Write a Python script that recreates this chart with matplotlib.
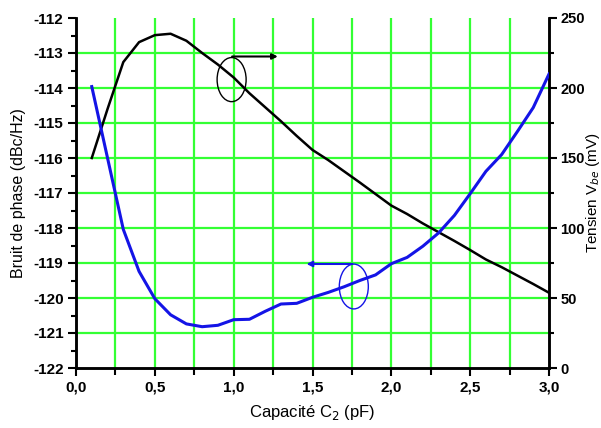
import matplotlib
matplotlib.use("Agg")
import matplotlib.pyplot as plt
from matplotlib.patches import Ellipse
from matplotlib.ticker import MultipleLocator

# ---- data ----
capacite = [0.1, 0.2, 0.3, 0.4, 0.5, 0.6, 0.7, 0.8, 0.9, 1.0,
            1.1, 1.2, 1.3, 1.4, 1.5, 1.6, 1.7, 1.8, 1.9, 2.0,
            2.1, 2.2, 2.3, 2.4, 2.5, 2.6, 2.7, 2.8, 2.9, 3.0]
bruit_phase = [-116.0, -114.6, -113.26, -112.69, -112.49, -112.45, -112.65, -113.0, -113.33, -113.7,
               -114.15, -114.55, -114.95, -115.37, -115.77, -116.06, -116.38, -116.7, -117.03, -117.36,
               -117.6, -117.87, -118.12, -118.37, -118.63, -118.9, -119.12, -119.36, -119.6, -119.85]
tension = [201, 150, 99, 69, 49.5, 38, 31.5, 29.5, 30.5, 34.5,
           34.8, 40.5, 45.7, 46.2, 50.5, 54, 58, 62.5, 66.5, 74.5,
           79, 87, 96.5, 109, 124.5, 140.5, 152.5, 169, 186, 210]

xticks = [0.0, 0.5, 1.0, 1.5, 2.0, 2.5, 3.0]
xtick_labels = ["0,0", "0,5", "1,0", "1,5", "2,0", "2,5", "3,0"]
yticks_left = [-122, -121, -120, -119, -118, -117, -116, -115, -114, -113, -112]
yticks_right = [0, 50, 100, 150, 200, 250]

plt.rcParams['font.family'] = ['Liberation Sans', 'DejaVu Sans']

W, H = 601, 428
fig = plt.figure(figsize=(W / 100, H / 100), dpi=100)
ax1 = fig.add_axes([76 / W, 1 - 368 / H, (549 - 76) / W, (368 - 18) / H])
ax2 = ax1.twinx()

green = '#33ff33'
blue = '#1414e6'

ax1.set_xlim(0, 3.0)
ax1.set_ylim(-122, -112)
ax2.set_ylim(0, 250)

# grid
for gx in [0.25 * i for i in range(1, 12)]:
    ax1.axvline(gx, color=green, lw=1.6, zorder=0)
for gy in range(-121, -112):
    ax1.axhline(gy, color=green, lw=1.6, zorder=0)

ax1.plot(capacite, bruit_phase, color='black', lw=1.8, zorder=3)
ax2.plot(capacite, tension, color=blue, lw=2.2, zorder=3)

# annotations
ax1.add_patch(Ellipse((0.987, -113.76), 0.184, 1.26, fill=False, ec='black', lw=1.0, zorder=4))
ax1.annotate("", xy=(1.28, -113.1), xytext=(0.99, -113.1),
             arrowprops=dict(arrowstyle='-|>', color='black', lw=1.5,
                             mutation_scale=8, shrinkA=0, shrinkB=0))
ax2.add_patch(Ellipse((1.762, 58.2), 0.184, 32, fill=False, ec=blue, lw=1.0, zorder=4))
ax2.annotate("", xy=(1.462, 74.3), xytext=(1.752, 74.3),
             arrowprops=dict(arrowstyle='-|>', color=blue, lw=1.5,
                             mutation_scale=8, shrinkA=0, shrinkB=0))

# ticks
ax1.set_xticks(xticks)
ax1.set_xticklabels(xtick_labels)
ax1.xaxis.set_minor_locator(MultipleLocator(0.25))
ax1.set_yticks(yticks_left)
ax1.set_yticklabels([str(v) for v in yticks_left])
ax1.yaxis.set_minor_locator(MultipleLocator(0.5))
ax2.set_yticks(yticks_right)
ax2.set_yticklabels([str(v) for v in yticks_right])
ax2.yaxis.set_minor_locator(MultipleLocator(25))

for ax in (ax1, ax2):
    ax.tick_params(which='major', direction='out', length=6, width=1.5, labelsize=11, pad=3)
    ax.tick_params(which='minor', direction='out', length=3.5, width=1.5)
    for s in ax.spines.values():
        s.set_linewidth(1.8)
    ax.spines['top'].set_visible(False)
ax1.tick_params(axis='x', which='minor', length=5)
ax2.tick_params(axis='y', which='major', labelsize=10.5, pad=2)
for lab in ax1.get_xticklabels() + ax1.get_yticklabels() + ax2.get_yticklabels():
    lab.set_fontweight('bold')

ax1.set_xlabel("Capacité C$_2$ (pF)", fontsize=12, labelpad=6)
ax1.set_ylabel("Bruit de phase (dBc/Hz)", fontsize=11.5, labelpad=5)
ax2.set_ylabel("Tensien V$_{be}$ (mV)", fontsize=11, rotation=90, va='center')
ax2.yaxis.set_label_coords(1.093, 0.5)

fig.savefig("out.png", dpi=100)
